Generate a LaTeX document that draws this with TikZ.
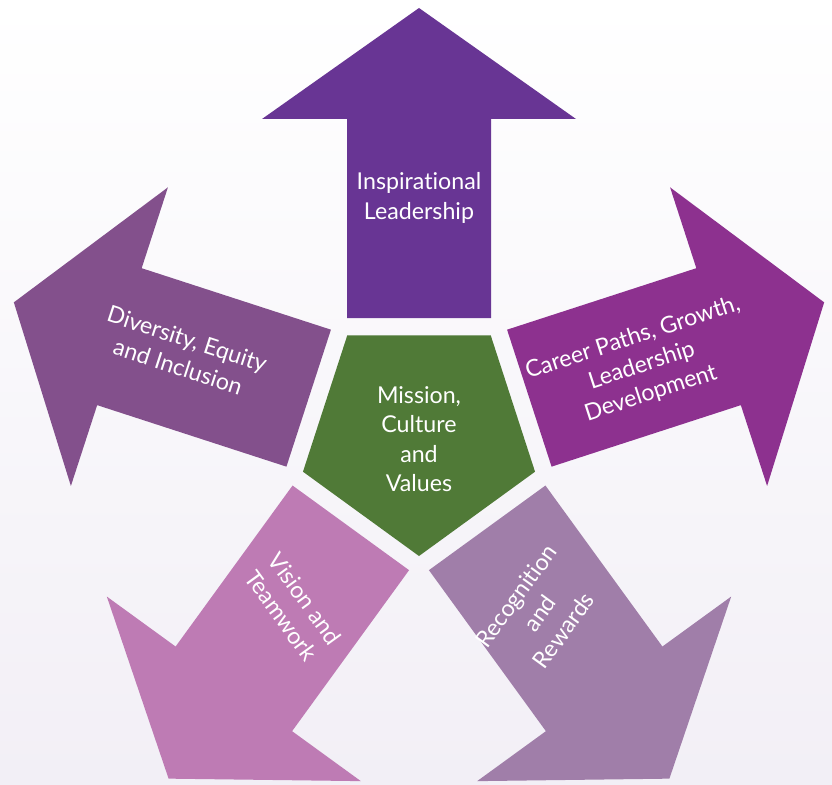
\documentclass[tikz,border=0pt]{standalone}
\usepackage{fontspec}
\setmainfont{Lato}[Ligatures=NoCommon]
\definecolor{leadpurple}{HTML}{683594}
\definecolor{careerpurple}{HTML}{8D318F}
\definecolor{rewardmauve}{HTML}{A07EA9}
\definecolor{visionpink}{HTML}{BE7BB4}
\definecolor{diversepurple}{HTML}{83508C}
\definecolor{missiongreen}{HTML}{507A37}
\definecolor{bglow}{HTML}{F2EFF6}
\begin{document}
\begin{tikzpicture}[x=0.025cm,y=0.025cm,
	arrowtext/.style={text=white,align=center,inner sep=0pt,font=\fontsize{16.5}{20.8}\selectfont}]
	
	\useasboundingbox (-419,-350) rectangle (413,434);
	\fill[top color=white,middle color=white,bottom color=bglow] (-419,-350) rectangle (413,434);
	
	% five arrows round the centre
	\fill[leadpurple,rotate=90] (116,-72) -- (315,-72) -- (315,-157) -- (426,0) -- (315,157) -- (315,72) -- (116,72) -- cycle;
	\fill[careerpurple,rotate=18] (116,-72) -- (315,-72) -- (315,-157) -- (426,0) -- (315,157) -- (315,72) -- (116,72) -- cycle;
	\fill[rewardmauve,rotate=-54] (116,-72) -- (315,-72) -- (315,-157) -- (426,0) -- (315,157) -- (315,72) -- (116,72) -- cycle;
	\fill[visionpink,rotate=-126] (116,-72) -- (315,-72) -- (315,-157) -- (426,0) -- (315,157) -- (315,72) -- (116,72) -- cycle;
	\fill[diversepurple,rotate=162] (116,-72) -- (315,-72) -- (315,-157) -- (426,0) -- (315,157) -- (315,72) -- (116,72) -- cycle;
	
	% centre pentagon
	\fill[missiongreen] (270:122) -- (342:122) -- (54:122) -- (126:122) -- (198:122) -- cycle;
	
	\node[arrowtext] (mission) at (0,-5) {Mission,\\Culture\\and\\Values};
	\node[arrowtext] (leadership) at (0,236) {Inspirational\\Leadership};
	\node[arrowtext,rotate=18] (career) at (17:233) {Career Paths, Growth,\\Leadership\\Development};
	\node[arrowtext,rotate=54] (rewards) at (-56:216) {Recognition\\and\\Rewards};
	\node[arrowtext,rotate=-54] (vision) at (234:214) {Vision and\\Teamwork};
	\node[arrowtext,rotate=-18] (diversity) at (161:250) {Diversity, Equity\\and Inclusion};
	
\end{tikzpicture}
\end{document}
